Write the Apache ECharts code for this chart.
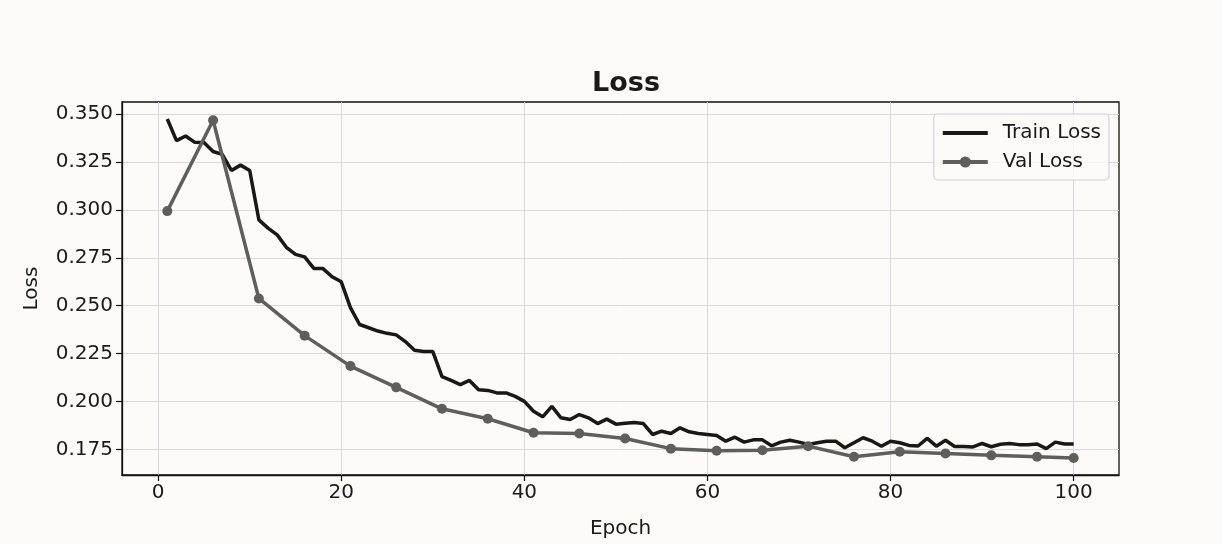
<!DOCTYPE html>
<html>
<head>
<meta charset="utf-8">
<script src="https://cdn.jsdelivr.net/npm/echarts@6/dist/echarts.min.js"></script>
<style>
  html, body { margin: 0; padding: 0; background: #fdfaf7; }
  #chart { width: 1222px; height: 544px; }
</style>
</head>
<body>
<div id="chart"></div>
<script>
// ---- data ----
const trainEpochs = Array.from({length: 100}, (_, i) => i + 1);
const trainLoss = [
  0.3475, 0.3362, 0.3386, 0.3353, 0.3352, 0.3305, 0.3290, 0.3206, 0.3234, 0.3206,
  0.2948, 0.2905, 0.2870, 0.2805, 0.2768, 0.2755, 0.2695, 0.2694, 0.2651, 0.2625,
  0.2490, 0.2402, 0.2385, 0.2368, 0.2356, 0.2348, 0.2313, 0.2268, 0.2261, 0.2261,
  0.2130, 0.2110, 0.2088, 0.2110, 0.2062, 0.2058, 0.2045, 0.2045, 0.2027, 0.2001,
  0.1949, 0.1920, 0.1975, 0.1915, 0.1906, 0.1932, 0.1915, 0.1885, 0.1908, 0.1882,
  0.1887, 0.1890, 0.1885, 0.1828, 0.1845, 0.1833, 0.1863, 0.1842, 0.1833, 0.1828,
  0.1823, 0.1793, 0.1814, 0.1788, 0.1800, 0.1800, 0.1769, 0.1788, 0.1798, 0.1788,
  0.1776, 0.1785, 0.1793, 0.1793, 0.1759, 0.1785, 0.1811, 0.1793, 0.1767, 0.1793,
  0.1785, 0.1771, 0.1768, 0.1808, 0.1767, 0.1798, 0.1765, 0.1765, 0.1763, 0.1781,
  0.1764, 0.1777, 0.1781, 0.1775, 0.1774, 0.1778, 0.1754, 0.1788, 0.1778, 0.1778
];
const valEpochs = [1, 6, 11, 16, 21, 26, 31, 36, 41, 46, 51, 56, 61, 66, 71, 76, 81, 86, 91, 96, 100];
const valLoss = [
  0.2994, 0.3468, 0.2538, 0.2344, 0.2185, 0.2074, 0.1962, 0.1910, 0.1837, 0.1833,
  0.1807, 0.1754, 0.1743, 0.1746, 0.1767, 0.1712, 0.1738, 0.1729, 0.1719, 0.1712, 0.1705
];
const xTicks = [0, 20, 40, 60, 80, 100];
const yTicks = [0.175, 0.200, 0.225, 0.250, 0.275, 0.300, 0.325, 0.350];
const titleText = 'Loss';
const xName = 'Epoch';
const yName = 'Loss';
const seriesNames = ['Train Loss', 'Val Loss'];

// matplotlib-style 5% margins
const xMinD = Math.min(...trainEpochs, ...valEpochs), xMaxD = Math.max(...trainEpochs, ...valEpochs);
const allY = trainLoss.concat(valLoss);
const yMinD = Math.min(...allY), yMaxD = Math.max(...allY);
const xPad = (xMaxD - xMinD) * 0.05, yPad = (yMaxD - yMinD) * 0.05;

const FONT = 'DejaVu Sans';
const TXT = '#1a1a1a';
const GRIDC = '#d9d8e2';
const TRAIN_C = '#1a1816';
const VAL_C = '#5f5e5b';

const chart = echarts.init(document.getElementById('chart'), null, {renderer: 'canvas'});
chart.setOption({
  backgroundColor: '#fdfaf7',
  animation: false,
  title: {
    text: titleText, left: 621, top: 65, textAlign: 'center',
    textStyle: {fontFamily: FONT, fontSize: 27, fontWeight: 'bold', color: TXT}
  },
  legend: {
    orient: 'vertical', right: 113, top: 114,
    data: [
      {name: seriesNames[0], icon: 'path://M0,0 L45,0 L45,4 L0,4 Z', itemStyle: {color: TRAIN_C}},
      {name: seriesNames[1], lineStyle: {width: 4, color: VAL_C}, itemStyle: {color: VAL_C}}
    ],
    backgroundColor: 'rgba(253,250,247,0.8)',
    borderColor: '#d2d0df', borderWidth: 1.2, borderRadius: 4,
    padding: [9, 8, 8, 7], itemGap: 9,
    itemWidth: 45, itemHeight: 14,
    textStyle: {fontFamily: FONT, fontSize: 20, color: TXT, padding: [0, 0, 0, 10]}
  },
  grid: {
    left: 122, right: 103, top: 102, bottom: 69,
    show: true, borderColor: '#111', borderWidth: 1.3, backgroundColor: 'transparent'
  },
  xAxis: {
    type: 'value', min: xMinD - xPad, max: xMaxD + xPad,
    name: xName, nameLocation: 'middle', nameGap: 44,
    nameTextStyle: {fontFamily: FONT, fontSize: 20, color: TXT},
    axisLine: {show: true, onZero: false, lineStyle: {color: '#111', width: 1.3}},
    axisTick: {show: true, length: 6, customValues: xTicks, lineStyle: {color: '#111', width: 1.2}},
    axisLabel: {customValues: xTicks, fontFamily: FONT, fontSize: 20, color: TXT, margin: 8},
    splitLine: {show: true, lineStyle: {color: GRIDC, width: 1}}
  },
  yAxis: {
    type: 'value', min: yMinD - yPad, max: yMaxD + yPad,
    name: yName, nameLocation: 'middle', nameGap: 80, nameRotate: 90,
    nameTextStyle: {fontFamily: FONT, fontSize: 20, color: TXT},
    axisLine: {show: true, onZero: false, lineStyle: {color: '#111', width: 1.3}},
    axisTick: {show: true, length: 6, customValues: yTicks, lineStyle: {color: '#111', width: 1.2}},
    axisLabel: {customValues: yTicks, fontFamily: FONT, fontSize: 20, color: TXT, margin: 9,
      formatter: v => v.toFixed(3)},
    splitLine: {show: true, lineStyle: {color: GRIDC, width: 1}}
  },
  series: [
    {
      name: seriesNames[0], type: 'line',
      data: trainEpochs.map((e, i) => [e, trainLoss[i]]),
      symbol: 'none', lineStyle: {color: TRAIN_C, width: 3.5}, itemStyle: {color: TRAIN_C},
      z: 3
    },
    {
      name: seriesNames[1], type: 'line',
      data: valEpochs.map((e, i) => [e, valLoss[i]]),
      symbol: 'circle', symbolSize: 10, showSymbol: true,
      lineStyle: {color: VAL_C, width: 3.5}, itemStyle: {color: VAL_C},
      z: 4
    }
  ]
});
</script>
</body>
</html>
